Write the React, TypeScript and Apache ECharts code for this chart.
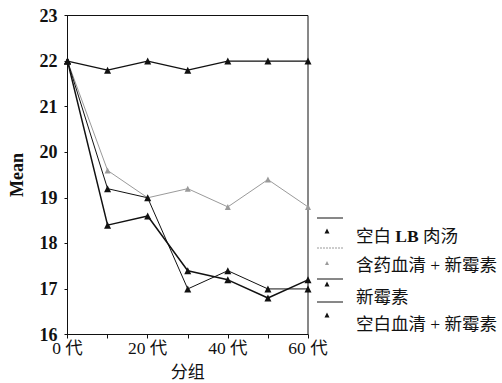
import React, { useEffect, useRef } from "react";
import * as echarts from "echarts";

// Generation (代) on the x axis
const generations = [0, 10, 20, 30, 40, 50, 60];

const seriesNames = ["空白 LB 肉汤", "含药血清 + 新霉素", "新霉素", "空白血清 + 新霉素"];

const blankLB = [22, 21.8, 22, 21.8, 22, 22, 22];
const serumNeomycin = [22, 19.6, 19.0, 19.2, 18.8, 19.4, 18.8];
const neomycin = [22, 18.4, 18.6, 17.4, 17.2, 16.8, 17.2];
const blankSerumNeomycin = [22, 19.2, 19.0, 17.0, 17.4, 17.0, 17.0];

const yTicks = { min: 16, max: 23, interval: 1 };
const xTicks = { min: 0, max: 60, interval: 10, labelEvery: 20 };

const BLACK = "#111";
const GREY = "#9a9a9a";
const SERIF = "Liberation Serif, Times New Roman, serif";
const CJK = "Liberation Serif, Noto Sans CJK SC, serif";

const seriesStyles = [
  { color: BLACK, width: 1.2, size: 7 },
  { color: GREY, width: 1, size: 6 },
  { color: BLACK, width: 1.5, size: 7 },
  { color: BLACK, width: 1, size: 7 },
];
const seriesValues = [blankLB, serumNeomycin, neomycin, blankSerumNeomycin];

// legend rows: rule line y, triangle y, text y
const legendRows = [
  { lineY: 218, triY: 231, textY: 236 },
  { lineY: 248, triY: 263, textY: 265 },
  { lineY: 279, triY: 284, textY: 297 },
  { lineY: 302, triY: 315, textY: 324 },
];

function tri(cx: number, cy: number, s: number) {
  return [
    [cx - s / 2, cy + s / 2],
    [cx, cy - s / 2],
    [cx + s / 2, cy + s / 2],
  ];
}

export default function App() {
  const ref = useRef<HTMLDivElement>(null);

  useEffect(() => {
    if (!ref.current) return;
    const chart = echarts.init(ref.current, null, { renderer: "svg" });

    const legendGraphics: any[] = [];
    seriesNames.forEach((name, i) => {
      const row = legendRows[i];
      const st = seriesStyles[i];
      legendGraphics.push({
        type: "line",
        shape: { x1: 317, y1: row.lineY, x2: 343, y2: row.lineY },
        style: {
          stroke: st.color,
          lineWidth: 1,
          lineDash: i === 1 ? [2, 1] : null,
        },
      });
      legendGraphics.push({
        type: "polygon",
        shape: { points: tri(327, row.triY, i === 1 ? 4 : 5) },
        style: { fill: st.color },
      });
      const parts = name.split("LB");
      legendGraphics.push({
        type: "text",
        x: 356,
        y: row.textY,
        style: {
          text:
            parts.length === 2
              ? `{n|${parts[0]}}{b|LB}{n|${parts[1]}}`
              : `{n|${name}}`,
          verticalAlign: "middle",
          rich: {
            n: { fontFamily: CJK, fontSize: 17.5, fill: BLACK },
            b: { fontFamily: SERIF, fontSize: 17.5, fontWeight: "bold", fill: BLACK },
          },
        },
      });
    });

    chart.setOption({
      animation: false,
      backgroundColor: "#fff",
      grid: {
        left: 67.5,
        right: 194,
        top: 15.5,
        bottom: 48.5,
        outerBoundsMode: "none",
        containLabel: false,
        show: true,
        borderColor: BLACK,
        borderWidth: 1,
        backgroundColor: "transparent",
      },
      xAxis: {
        type: "value",
        min: xTicks.min,
        max: xTicks.max,
        interval: xTicks.interval,
        name: "分组",
        nameLocation: "middle",
        nameGap: 29,
        nameTextStyle: { fontFamily: CJK, fontSize: 17, color: BLACK },
        axisLine: { lineStyle: { color: BLACK, width: 1 } },
        axisTick: { show: true, inside: false, length: 4, lineStyle: { color: BLACK } },
        axisLabel: {
          margin: 5,
          fontFamily: CJK,
          fontSize: 17.5,
          color: BLACK,
          showMinLabel: true,
          showMaxLabel: true,
          formatter: (v: number) => (v % xTicks.labelEvery === 0 ? `${v} 代` : ""),
        },
        splitLine: { show: false },
      },
      yAxis: {
        type: "value",
        min: yTicks.min,
        max: yTicks.max,
        interval: yTicks.interval,
        name: "Mean",
        nameLocation: "middle",
        nameGap: 42,
        nameRotate: 90,
        nameTextStyle: {
          fontFamily: SERIF,
          fontSize: 18,
          fontWeight: "bold",
          color: BLACK,
        },
        axisLine: { show: true, lineStyle: { color: BLACK, width: 1 } },
        axisTick: { show: true, inside: false, length: 3, lineStyle: { color: BLACK } },
        axisLabel: {
          margin: 10,
          fontFamily: SERIF,
          fontSize: 18,
          fontWeight: "bold",
          color: BLACK,
        },
        splitLine: { show: false },
      },
      series: seriesNames.map((name, i) => ({
        name,
        type: "line",
        data: generations.map((g, j) => [g, seriesValues[i][j]]),
        symbol: "triangle",
        symbolSize: seriesStyles[i].size,
        showSymbol: true,
        itemStyle: { color: seriesStyles[i].color },
        lineStyle: { color: seriesStyles[i].color, width: seriesStyles[i].width },
        clip: false,
        z: i === 1 ? 1 : 2,
      })),
      graphic: legendGraphics,
    });

    return () => chart.dispose();
  }, []);

  return (
    <div
      ref={ref}
      style={{ position: "fixed", left: 0, top: 0, width: 502, height: 383 }}
    />
  );
}
